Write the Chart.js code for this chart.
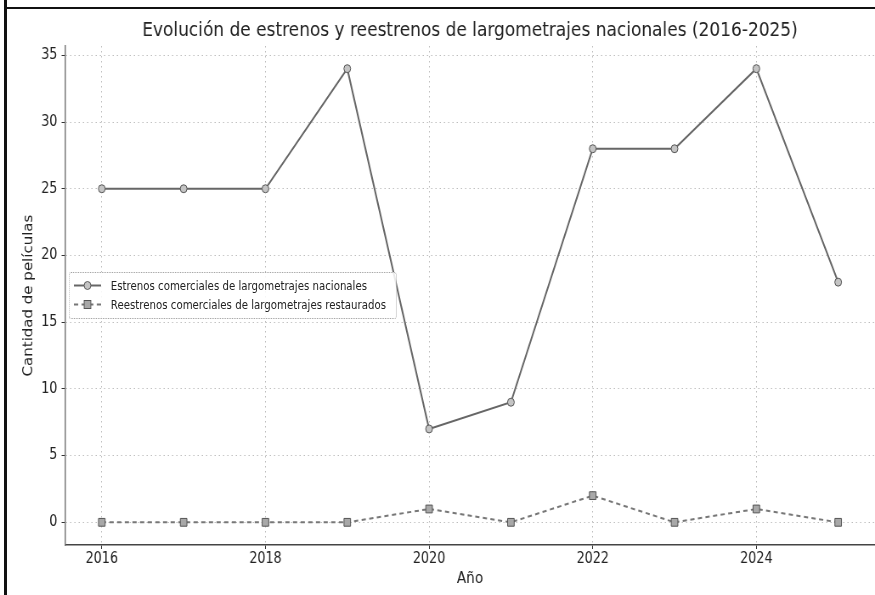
<!DOCTYPE html>
<html lang="es">
<head>
<meta charset="utf-8">
<title>Estrenos y reestrenos de largometrajes nacionales</title>
<script src="https://cdn.jsdelivr.net/npm/chart.js@4/dist/chart.umd.min.js"></script>
<style>
    html, body { margin: 0; padding: 0; background: #fff; }
    body { width: 875px; height: 595px; position: relative; overflow: hidden; }
    #wrap {
        position: absolute; left: 0; top: 0;
        width: 1030px; height: 595px;
        transform: scaleX(0.8495); transform-origin: 0 0;
    }
    #legend {
        position: absolute;
        background: rgba(255, 255, 255, 0.85);
        border: 1px dotted #999;
        border-radius: 3px;
        padding: 3px 12px 4px 5px;
        font: 12px "DejaVu Sans", sans-serif;
        color: #222;
    }
    #legend .row { display: flex; align-items: center; height: 19px; white-space: nowrap; }
    #legend svg { margin-right: 12px; }
    .edge-left { position: absolute; left: 4px; top: 0; width: 3px; height: 595px; background: #111; }
    .edge-top { position: absolute; left: 4px; top: 7px; width: 871px; height: 2px; background: #111; }
</style>
</head>
<body>
<div id="wrap">
    <canvas id="releasesChart" width="1030" height="595"></canvas>
    <div id="legend"></div>
</div>
<div class="edge-left"></div>
<div class="edge-top"></div>

<script>
// --- Datos ---
const years = [2016, 2017, 2018, 2019, 2020, 2021, 2022, 2023, 2024, 2025];
const estrenos = [25, 25, 25, 34, 7, 9, 28, 28, 34, 18];
const reestrenos = [0, 0, 0, 0, 1, 0, 2, 0, 1, 0];
const xTickYears = [2016, 2018, 2020, 2022, 2024];
const yTickValues = [0, 5, 10, 15, 20, 25, 30, 35];
const seriesLabels = [
    "Estrenos comerciales de largometrajes nacionales",
    "Reestrenos comerciales de largometrajes restaurados"
];
const chartTitle = "Evolución de estrenos y reestrenos de largometrajes nacionales (2016-2025)";

const FONT = '"DejaVu Sans", sans-serif';
const X_MIN = 2015.55, X_MAX = 2025.45;

function toPoints(values) {
    return years.map((year, i) => ({ x: year, y: values[i] }));
}

const ctx = document.getElementById("releasesChart").getContext("2d");
const chart = new Chart(ctx, {
    type: 'line',
    data: {
        datasets: [
            {
                label: seriesLabels[0],
                data: toPoints(estrenos),
                borderColor: "#666",
                borderWidth: 2,
                pointStyle: 'circle',
                pointRadius: 4,
                pointBackgroundColor: "#c4c4c4",
                pointBorderColor: "#555",
                pointBorderWidth: 1,
                tension: 0
            },
            {
                label: seriesLabels[1],
                data: toPoints(reestrenos),
                borderColor: "#777",
                borderWidth: 2,
                borderDash: [5, 4],
                pointStyle: 'rect',
                pointRadius: 5.5,
                pointBackgroundColor: "#a8a8a8",
                pointBorderColor: "#555",
                pointBorderWidth: 1,
                tension: 0
            }
        ]
    },
    options: {
        responsive: false,
        animation: false,
        layout: { autoPadding: false, padding: { left: 8, right: 0, top: 8, bottom: 0 } },
        plugins: {
            legend: { display: false },
            tooltip: { enabled: false }
        },
        scales: {
            // eje superior vacío: solo sirve para centrar el título sobre el área del gráfico
            titleAxis: {
                type: 'linear',
                position: 'top',
                min: X_MIN,
                max: X_MAX,
                afterFit: axis => { axis.height = 38; },
                ticks: { display: false },
                grid: { display: false, drawTicks: false },
                border: { display: false },
                title: {
                    display: true,
                    text: chartTitle,
                    color: "#222",
                    font: { family: FONT, size: 20, lineHeight: 1.2 },
                    padding: { top: 11, bottom: 0 }
                }
            },
            x: {
                type: 'linear',
                min: X_MIN,
                max: X_MAX,
                afterBuildTicks: axis => { axis.ticks = xTickYears.map(v => ({ value: v })); },
                afterFit: axis => { axis.height = 50; },
                ticks: {
                    color: "#222",
                    font: { family: FONT, size: 15 },
                    padding: 1,
                    maxRotation: 0,
                    callback: v => String(v)
                },
                grid: { color: "#bdbdbd", lineWidth: 1, tickLength: 4, tickColor: "#333", tickBorderDash: [] },
                border: { display: true, color: "#444", width: 1.5, dash: [1.5, 3.5] },
                title: {
                    display: true,
                    text: "Año",
                    color: "#222",
                    font: { family: FONT, size: 16 },
                    padding: { top: 0, bottom: 7 }
                }
            },
            y: {
                min: -1.7,
                max: 35.7,
                afterBuildTicks: axis => { axis.ticks = yTickValues.map(v => ({ value: v })); },
                afterFit: axis => { axis.width = 68.5; },
                ticks: {
                    color: "#222",
                    font: { family: FONT, size: 15 },
                    padding: 5
                },
                grid: { color: "#bdbdbd", lineWidth: 1, tickLength: 4, tickColor: "#333", tickBorderDash: [] },
                border: { display: true, color: "#777", width: 1.5, dash: [1.5, 3.5] },
                title: {
                    display: true,
                    text: "Cantidad de películas",
                    color: "#222",
                    font: { family: FONT, size: 15 },
                    padding: { top: 17, bottom: 0 }
                }
            }
        }
    }
});

// Leyenda dentro del área del gráfico (centro izquierda), como en el original
function buildLegend(chart) {
    const box = document.getElementById("legend");
    chart.data.datasets.forEach(ds => {
        const row = document.createElement("div");
        row.className = "row";
        const dash = ds.borderDash ? ` stroke-dasharray="${ds.borderDash.join(' ')}"` : '';
        const marker = ds.pointStyle === 'rect'
            ? `<rect x="12" y="5.5" width="8" height="8" fill="${ds.pointBackgroundColor}" stroke="${ds.pointBorderColor}"/>`
            : `<circle cx="16" cy="9.5" r="4" fill="${ds.pointBackgroundColor}" stroke="${ds.pointBorderColor}"/>`;
        row.innerHTML =
            `<svg width="32" height="19"><line x1="0" y1="9.5" x2="32" y2="9.5" stroke="${ds.borderColor}" stroke-width="2"${dash}/>${marker}</svg>` +
            `<span>${ds.label}</span>`;
        box.appendChild(row);
    });
    const area = chart.chartArea;
    box.style.left = (area.left + 4) + "px";
    box.style.top = ((area.top + area.bottom) / 2 - box.offsetHeight / 2) + "px";
}

buildLegend(chart);
</script>
</body>
</html>
